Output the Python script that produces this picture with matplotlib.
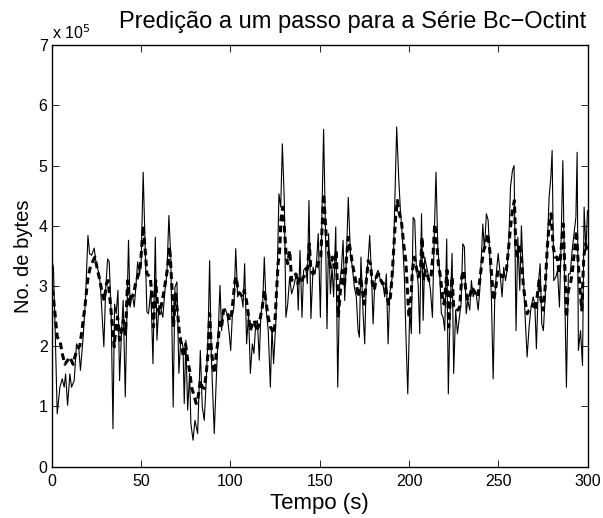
import matplotlib
matplotlib.use("Agg")
from matplotlib import pyplot as plt

plt.rcParams['font.family'] = ['Liberation Sans', 'DejaVu Sans']

# measured series (no. of bytes, units of 1e5)
t_real = [0, 1, 2, 3.1, 4.6, 5.9, 7.0, 7.8, 8.9, 10.2, 11.1, 12.6, 13.9, 15.2, 16.1, 17.6, 18.9,
          20.3, 21.2, 22.3, 23.8, 24.9, 26.0, 27.2, 28.3, 29.2, 30.2, 31.3, 32.2, 33.3, 34.3,
          35.2, 36.1, 37.1, 38.0, 38.9, 40.0, 41.2, 42.1, 43.0, 43.9, 45.1, 46.2, 47.1, 48.1,
          49.2, 50.1, 51.2, 52.2, 53.3,
          54.2, 55.5, 56.7, 58.0, 58.9, 60.0, 61.1, 62.2, 63.4, 64.5, 65.6, 66.7, 68.0, 69.0,
          70.1, 71.2, 72.3, 73.5, 74.2, 75.1, 76.1, 77.2, 77.9, 79.1, 80.2, 81.7, 83.2, 84.3,
          85.4, 86.5, 87.5, 88.4, 89.3, 90.3, 91.0, 92.1, 93.2, 94.2, 95.1, 96.0, 97.2, 98.1,
          99.2, 100.2, 101.1, 102.0,
          103.0, 104.1, 105.2, 106.3, 107.1, 108.0, 109.1, 110.2, 111.2, 112.3, 113.2, 114.2,
          115.1, 116.2, 117.1, 118.1, 119.0, 120.1, 121.2, 122.4, 123.3, 124.2, 125.4, 126.3,
          127.2, 128.2, 129.1, 130.2, 131.1, 132.1, 133.2, 134.3, 135.4, 136.6, 137.3, 138.0,
          139.0, 140.1, 141.0, 142.2, 143.1, 144.0, 145.1, 146.3, 147.4, 148.3, 149.2, 150.4,
          151.3,
          152.2, 153.2, 154.1, 155.0, 156.0, 156.9, 157.8, 159.0, 160.1, 161.2, 162.1, 163.1,
          164.0, 164.9, 166.0, 167.2, 168.3, 169.4, 170.5, 171.5, 172.2, 173.1, 174.3, 175.2,
          176.1, 177.1, 178.0, 178.9, 179.9, 180.8, 181.7, 182.7, 183.6, 184.5, 185.5, 186.4,
          187.3, 188.3, 189.2, 190.1, 191.1, 192.0, 193.1, 194.2, 195.2, 196.3, 197.4, 198.3,
          199.3, 200.4, 201.3,
          202.3, 203.2, 204.1, 205.1, 206.0, 207.0, 207.9, 208.8, 209.9, 211.0, 212.0, 213.1,
          214.0, 215.1, 216.1, 217.2, 218.1, 219.1, 220.0, 221.1, 222.0, 223.0, 224.1, 225.0,
          226.1, 227.1, 228.0, 229.1, 230.1, 231.0, 232.0, 232.9, 234.0, 234.9, 235.9, 236.8,
          237.7, 238.7, 239.6, 240.5, 241.3, 242.2, 243.3, 244.3, 245.2, 246.1, 247.1, 248.0,
          249.0, 249.9, 250.8,
          252.1, 253.0, 254.0, 254.9, 255.8, 256.8, 257.9, 258.8, 259.9, 260.9, 262.0, 262.9,
          264.0, 265.0, 266.1, 267.2, 268.3, 269.5, 270.4, 271.3, 272.4, 273.4, 274.3, 275.2,
          276.2, 277.3, 278.4, 279.4, 280.1, 281.0, 282.2, 283.1, 284.2, 285.1, 286.1, 287.2,
          288.1, 289.2, 290.2, 291.3, 292.4, 293.4, 294.1, 294.8, 296.0, 297.1, 298.0, 299.0,
          299.9]
real = [3.45, 3.3, 2.2, 0.88, 1.32, 1.46, 1.32, 1.54, 1.02, 1.54, 1.32, 1.43, 2.04, 1.96, 1.6,
        2.15, 2.76, 3.84, 3.54, 3.51, 3.63, 3.37, 3.26, 3.04, 2.48, 1.99, 2.93, 3.45, 3.4, 2.54,
        0.63, 2.7, 2.54, 2.93, 1.43, 2.1, 2.76, 1.16, 2.54, 3.76, 2.65, 2.87, 2.65, 2.98, 3.4,
        3.2, 3.42, 4.89, 3.76, 2.57,
        2.54, 2.93, 1.71, 3.81, 2.1, 2.68, 2.62, 2.48, 2.93, 3.2, 4.17, 3.45, 0.99, 2.98, 3.07,
        1.55, 2.15, 1.99, 1.05, 2.1, 0.94, 1.55, 0.72, 0.44, 0.77, 0.55, 1.93, 0.99, 0.77, 1.43,
        2.15, 3.42, 1.88, 1.1, 0.55, 1.43, 2.21, 3.01, 2.26, 2.6, 2.62, 2.54, 2.26, 1.93, 2.51,
        2.65,
        3.62, 2.82, 2.9, 2.82, 2.65, 3.37, 2.04, 2.54, 1.55, 2.04, 1.88, 2.37, 2.43, 1.77, 2.54,
        2.7, 3.48, 2.6, 2.26, 1.32, 2.32, 1.71, 2.37, 3.26, 4.53, 4.31, 5.36, 4.42, 2.48, 2.7,
        3.15, 2.87, 2.98, 3.15, 3.2, 2.6, 3.59, 2.48, 3.26, 3.31, 3.04, 4.42, 2.46, 3.31, 3.2,
        3.42, 3.87, 2.48, 4.25,
        5.6, 3.98, 2.29, 3.87, 2.87, 3.31, 2.82, 3.98, 1.32, 3.04, 3.26, 3.76, 2.76, 3.42, 4.47,
        3.54, 3.31, 2.98, 2.82, 2.26, 2.15, 3.48, 2.54, 2.04, 3.15, 3.42, 3.84, 3.26, 2.37, 3.04,
        3.2, 3.26, 3.15, 3.04, 3.01, 2.82, 3.2, 2.04, 2.87, 3.04, 3.26, 4.36, 5.64, 4.81, 4.25,
        3.81, 3.15, 2.15, 1.21, 2.6, 2.21,
        4.14, 4.09, 3.31, 3.04, 2.21, 4.2, 2.43, 3.48, 3.31, 3.15, 2.93, 2.48, 3.7, 4.89, 3.65,
        3.2, 2.54, 2.48, 2.26, 3.78, 1.21, 2.6, 3.54, 1.55, 2.6, 2.21, 2.43, 2.7, 3.7, 3.65,
        2.54, 2.76, 2.6, 3.09, 2.82, 2.93, 2.84, 2.6, 2.93, 3.48, 4.03, 3.59, 4.2, 4.09, 3.48,
        2.82, 1.46, 2.82, 3.26, 3.54, 3.26,
        2.82, 3.31, 3.09, 3.26, 3.7, 4.64, 4.92, 5.0, 2.26, 3.81, 2.93, 4.0, 3.15, 2.48, 1.82,
        2.32, 2.65, 2.82, 2.7, 1.96, 3.04, 3.37, 2.37, 2.26, 2.82, 3.59, 4.47, 4.81, 5.25, 3.09,
        3.15, 3.26, 2.65, 3.7, 5.08, 2.82, 1.32, 3.2, 3.2, 3.59, 3.87, 4.14, 5.22, 1.93, 2.26,
        1.68, 4.31, 3.59, 4.25]

# one-step prediction
t_pred = [0, 0.8, 2.0, 3.1, 4.6, 5.9, 7.4, 8.3, 10.2, 12.0, 13.9, 15.8, 16.7, 18.6, 20.1, 21.4,
          22.7, 24.2, 25.7, 27.0, 28.3, 29.4, 30.7, 31.6, 32.7, 33.9, 35.0, 35.9, 36.9, 38.0,
          39.1, 40.2, 41.3, 42.5, 43.4, 44.3, 45.6, 46.9, 48.1, 49.4, 50.3, 51.2, 52.2, 53.3,
          55.2, 56.3, 57.0, 58.2, 59.3, 60.4, 61.5, 62.6, 63.8, 64.9, 66.0, 66.7, 67.5, 68.2,
          69.3, 70.5, 71.6, 72.7, 73.8, 74.9, 76.1, 77.2, 78.3, 79.4, 80.9, 82.0, 83.2, 84.3,
          85.4, 86.5, 87.5, 88.4, 89.3, 90.3, 91.2, 92.1, 93.2, 94.2, 95.1, 96.2, 97.4, 98.5,
          99.6, 100.5, 101.5, 102.6,
          103.3, 104.4, 105.6, 106.7, 107.8, 109.0, 110.0, 111.2, 112.3, 113.4, 114.5, 115.6,
          116.8, 117.9, 119.0, 120.1, 121.2, 122.4, 123.5, 124.6, 125.7, 126.7, 127.6, 128.3,
          129.3, 130.2, 131.3, 132.1, 133.2, 134.3, 135.4, 136.6, 137.7, 138.8, 139.9, 141.0,
          142.2, 143.3, 144.2, 145.1, 146.3, 147.4, 148.5, 149.6, 150.6, 151.5,
          152.2, 153.0, 153.7, 155.0, 156.0, 157.1, 158.2, 159.3, 160.4, 161.6, 162.7, 163.8,
          164.9, 166.0, 167.2, 168.3, 169.4, 170.5, 171.6, 172.8, 173.9, 175.0, 176.1, 177.2,
          178.4, 179.5, 180.6, 181.7, 183.0, 184.3, 185.5, 186.6, 187.7, 188.6, 189.6, 190.5,
          191.4, 192.5, 193.5, 194.6, 195.7, 197.0, 198.2, 199.3, 200.0, 201.1,
          201.9, 203.0, 204.1, 205.2, 206.4, 207.3, 208.2, 209.2, 210.1, 211.2, 212.3, 213.5,
          214.4, 215.3, 216.4, 217.6, 218.7, 219.6, 220.5, 221.3, 222.2, 223.2, 224.1, 225.0,
          226.1, 227.3, 228.4, 229.5, 230.6, 231.8, 232.9, 234.0, 235.1, 236.2, 237.3, 238.5,
          239.6, 240.7, 241.8, 243.0, 244.1, 245.2, 246.3, 247.4, 248.6, 249.7, 250.8,
          252.3, 253.4, 254.5, 255.6, 256.8, 257.9, 259.0, 259.7, 260.5, 261.6, 262.7, 263.9,
          265.0, 266.1, 267.2, 268.3, 269.5, 270.6, 271.7, 272.8, 273.9, 275.1, 276.2, 277.3,
          278.4, 279.5, 280.7, 281.8, 282.9, 284.0, 285.1, 286.3, 287.2, 288.1, 289.2, 290.4,
          291.5, 292.6, 293.7, 294.5, 295.6, 296.7, 297.8, 298.8, 299.7]
pred = [2.95, 2.87, 2.5, 2.15, 2.1, 1.88, 1.7, 1.74, 1.82, 1.7, 1.93, 2.01, 2.21, 2.65, 3.09,
        3.29, 3.39, 3.48, 3.26, 3.09, 2.87, 2.76, 3.04, 3.09, 2.76, 2.37, 1.99, 2.32, 2.49, 2.1,
        2.27, 2.43, 2.2, 3.09, 2.7, 2.82, 2.84, 3.03, 3.15, 3.26, 3.6, 4.0, 3.65, 3.2,
        3.15, 2.76, 2.32, 3.09, 2.65, 2.54, 2.7, 2.87, 3.09, 3.31, 3.65, 3.31, 2.87, 2.32, 2.87,
        2.54, 2.18, 1.99, 1.82, 2.04, 1.77, 1.6, 1.32, 1.21, 1.05, 1.16, 1.43, 1.32, 1.3, 1.55,
        1.88, 2.54, 1.99, 1.66, 1.55, 1.88, 2.1, 2.4, 2.32, 2.6, 2.6, 2.54, 2.43, 2.48, 2.76,
        3.09,
        3.15, 2.9, 2.87, 2.82, 2.93, 2.76, 2.54, 2.26, 2.37, 2.43, 2.26, 2.32, 2.48, 2.65, 2.93,
        2.7, 2.48, 2.32, 2.26, 2.21, 2.82, 3.37, 3.59, 4.09, 4.31, 3.98, 3.48, 3.37, 3.59, 3.09,
        3.15, 3.2, 3.04, 3.15, 3.09, 3.15, 3.2, 3.31, 3.7, 3.26, 3.2, 3.26, 3.31, 3.42, 3.48,
        4.09,
        4.53, 4.14, 3.81, 3.54, 3.31, 3.48, 3.31, 3.59, 2.48, 2.93, 3.26, 2.98, 3.42, 3.81, 3.59,
        3.37, 3.2, 3.04, 2.82, 3.15, 2.93, 2.7, 3.09, 3.42, 3.37, 3.04, 2.93, 3.15, 3.2, 3.09,
        3.04, 3.04, 2.82, 2.7, 2.82, 3.15, 3.59, 4.14, 4.42, 4.2, 4.09, 3.7, 3.42, 2.82, 2.48,
        2.82,
        3.26, 3.48, 3.31, 3.15, 3.26, 3.81, 3.09, 3.26, 3.2, 3.09, 3.15, 3.54, 4.03, 3.81, 3.37,
        3.15, 2.82, 2.7, 2.98, 3.26, 2.32, 2.82, 3.15, 2.65, 2.65, 2.6, 2.65, 3.15, 3.26, 2.93,
        2.76, 2.82, 2.98, 2.93, 2.87, 2.82, 3.09, 3.37, 3.59, 3.7, 3.87, 3.59, 3.15, 2.76, 2.98,
        3.26, 3.2,
        3.15, 3.2, 3.26, 3.59, 3.98, 4.25, 4.42, 3.7, 3.48, 3.7, 3.54, 3.04, 2.76, 2.54, 2.6,
        2.62, 2.7, 2.6, 2.82, 3.09, 2.76, 2.6, 2.98, 3.59, 4.03, 4.2, 3.65, 3.48, 3.48, 3.2,
        3.59, 4.03, 3.31, 2.48, 2.93, 3.04, 3.26, 3.59, 3.92, 3.48, 2.98, 2.6, 3.48, 3.7, 3.59]

x_ticks = [0, 50, 100, 150, 200, 250, 300]
y_ticks = [0, 1, 2, 3, 4, 5, 6, 7]

fig = plt.figure(figsize=(6.03, 5.18), dpi=100)
ax = fig.add_axes([0.0857, 0.099, 0.8889, 0.814])

ax.plot(t_real, real, color='black', linewidth=0.8)
ax.plot(t_pred, pred, color='black', linewidth=2.2, linestyle=(0, (2.2, 1.4)))

ax.set_xlim(0, 300)
ax.set_ylim(0, 7)
ax.set_xticks(x_ticks)
ax.set_yticks(y_ticks)
ax.tick_params(direction='in', top=True, right=True, length=5, width=0.6, labelsize=11.5)
ax.tick_params(axis='x', pad=5)
ax.tick_params(axis='y', pad=3)
for s in ax.spines.values():
    s.set_linewidth(1.0)

ax.text(0.0, 1.008, r'x 10$^{5}$', transform=ax.transAxes, fontsize=11.5, ha='left', va='bottom')
fig.text(0.585, 1 - 28 / 518, 'Predição a um passo para a Série Bc\u2212Octint',
         fontsize=17, ha='center', va='baseline')
ax.set_xlabel('Tempo (s)', fontsize=16, labelpad=3)
ax.set_ylabel('No. de bytes', fontsize=14.5, labelpad=4)

plt.savefig('out.png', dpi=100)
